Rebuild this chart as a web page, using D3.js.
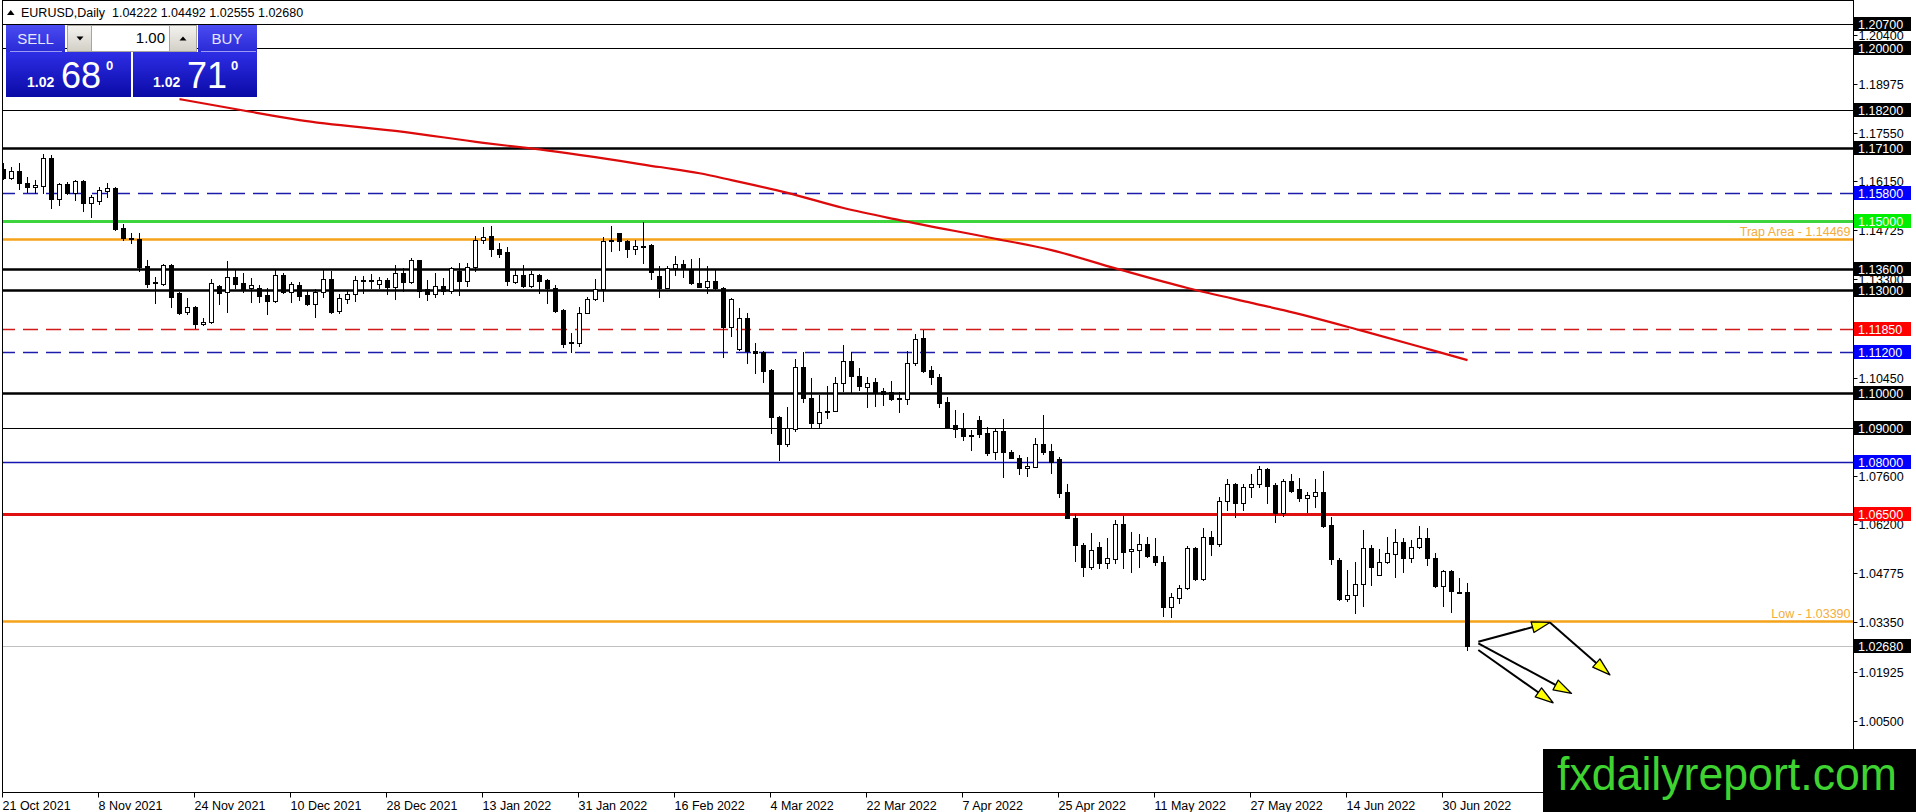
<!DOCTYPE html>
<html>
<head>
<meta charset="utf-8">
<script src="https://cdn.jsdelivr.net/npm/d3@7/dist/d3.min.js"></script>
<style>
  html, body { margin: 0; padding: 0; background: #fff; }
  svg { display: block; font-family: "Liberation Sans", Arial, sans-serif; }
</style>
</head>
<body>
<div id="chart"></div>
<script>
(function() {

// ---- data ----
const symbolTitle = "EURUSD,Daily  1.04222 1.04492 1.02555 1.02680";

const open = [
  1.1649, 1.1623, 1.1644, 1.1609, 1.1598, 1.1602, 1.1681, 1.1562, 1.1606, 1.1580,
  1.1616, 1.1553, 1.1558, 1.1587, 1.1594, 1.1478, 1.1446, 1.1446, 1.1369, 1.1322,
  1.1317, 1.1372, 1.1290, 1.1236, 1.1251, 1.1200, 1.1207, 1.1312, 1.1293, 1.1338,
  1.1319, 1.1304, 1.1304, 1.1285, 1.1268, 1.1343, 1.1293, 1.1313, 1.1285, 1.1259,
  1.1293, 1.1330, 1.1239, 1.1274, 1.1287, 1.1327, 1.1325, 1.1316, 1.1328, 1.1309,
  1.1348, 1.1323, 1.1385, 1.1301, 1.1287, 1.1312, 1.1297, 1.1354, 1.1326, 1.1367,
  1.1444, 1.1456, 1.1417, 1.1409, 1.1323, 1.1342, 1.1311, 1.1342, 1.1328, 1.1304,
  1.1241, 1.1148, 1.1147, 1.1234, 1.1272, 1.1301, 1.1440, 1.1464, 1.1441, 1.1417,
  1.1428, 1.1430, 1.1340, 1.1306, 1.1362, 1.1374, 1.1359, 1.1319, 1.1309, 1.1325,
  1.1304, 1.1191, 1.1127, 1.1217, 1.1123, 1.1119, 1.1067, 1.0932, 1.0854, 1.0896,
  1.1075, 1.0985, 1.0913, 1.0944, 1.0949, 1.1030, 1.1092, 1.1051, 1.1019, 1.1031,
  1.1007, 1.1002, 1.0987, 1.0982, 1.1087, 1.1159, 1.1067, 1.1046, 1.0975, 1.0908,
  1.0895, 1.0878, 1.0922, 1.0885, 1.0828, 1.0890, 1.0830, 1.0811, 1.0782, 1.0787,
  1.0853, 1.0832, 1.0808, 1.0712, 1.0637, 1.0560, 1.0497, 1.0553, 1.0506, 1.0519,
  1.0622, 1.0542, 1.0545, 1.0562, 1.0528, 1.0511, 1.0379, 1.0405, 1.0434, 1.0550,
  1.0460, 1.0584, 1.0563, 1.0688, 1.0736, 1.0681, 1.0729, 1.0736, 1.0779, 1.0734,
  1.0653, 1.0746, 1.0721, 1.0695, 1.0703, 1.0714, 1.0617, 1.0516, 1.0404, 1.0416,
  1.0446, 1.0550, 1.0474, 1.0509, 1.0533, 1.0567, 1.0521, 1.0553, 1.0581, 1.0521,
  1.0442, 1.0484, 1.0423, 1.04222
];

const high = [
  1.1667, 1.1655, 1.1667, 1.1626, 1.1618, 1.1694, 1.1691, 1.1611, 1.1614, 1.1618,
  1.1618, 1.1575, 1.1599, 1.1611, 1.1599, 1.1491, 1.1464, 1.1464, 1.1386, 1.1338,
  1.1375, 1.1375, 1.1294, 1.1275, 1.1254, 1.1217, 1.1330, 1.1314, 1.1384, 1.1357,
  1.1348, 1.1333, 1.1314, 1.1304, 1.1357, 1.1348, 1.1323, 1.1323, 1.1299, 1.1301,
  1.1357, 1.1353, 1.1288, 1.1299, 1.1340, 1.1340, 1.1346, 1.1336, 1.1333, 1.1372,
  1.1362, 1.1391, 1.1386, 1.1328, 1.1348, 1.1333, 1.1367, 1.1377, 1.1379, 1.1456,
  1.1483, 1.1485, 1.1435, 1.1423, 1.1357, 1.1371, 1.1353, 1.1346, 1.1330, 1.1314,
  1.1243, 1.1174, 1.1249, 1.1280, 1.1330, 1.1452, 1.1485, 1.1465, 1.1444, 1.1444,
  1.1497, 1.1433, 1.1369, 1.1369, 1.1398, 1.1386, 1.1390, 1.1391, 1.1369, 1.1359,
  1.1309, 1.1277, 1.1246, 1.1234, 1.1145, 1.1123, 1.1069, 1.0934, 1.0961, 1.1098,
  1.1120, 1.1043, 1.0995, 1.1021, 1.1046, 1.1140, 1.1120, 1.1072, 1.1048, 1.1043,
  1.1014, 1.1036, 1.1002, 1.1123, 1.1172, 1.1183, 1.1079, 1.1055, 1.0988, 1.0951,
  1.0942, 1.0893, 1.0934, 1.0903, 1.0895, 1.0924, 1.0835, 1.0821, 1.0814, 1.0869,
  1.0937, 1.0853, 1.0816, 1.0738, 1.0651, 1.0564, 1.0593, 1.0569, 1.0579, 1.0632,
  1.0644, 1.0598, 1.0591, 1.0584, 1.0579, 1.0529, 1.0419, 1.0444, 1.0557, 1.0555,
  1.0608, 1.0600, 1.0698, 1.0750, 1.0740, 1.0736, 1.0766, 1.0789, 1.0782, 1.0740,
  1.0750, 1.0766, 1.0753, 1.0714, 1.0750, 1.0774, 1.0642, 1.0521, 1.0487, 1.0509,
  1.0603, 1.0561, 1.0547, 1.0584, 1.0605, 1.0579, 1.0574, 1.0616, 1.0608, 1.0535,
  1.0487, 1.0487, 1.0463, 1.04492
];

const low = [
  1.1620, 1.1621, 1.1591, 1.1585, 1.1582, 1.1582, 1.1536, 1.1546, 1.1578, 1.1560,
  1.1529, 1.1512, 1.1549, 1.1570, 1.1473, 1.1444, 1.1435, 1.1355, 1.1309, 1.1263,
  1.1315, 1.1251, 1.1230, 1.1230, 1.1188, 1.1198, 1.1204, 1.1259, 1.1236, 1.1304,
  1.1294, 1.1265, 1.1265, 1.1230, 1.1265, 1.1290, 1.1265, 1.1270, 1.1256, 1.1222,
  1.1280, 1.1234, 1.1232, 1.1261, 1.1266, 1.1292, 1.1304, 1.1304, 1.1288, 1.1273,
  1.1297, 1.1321, 1.1280, 1.1270, 1.1280, 1.1288, 1.1290, 1.1285, 1.1311, 1.1355,
  1.1437, 1.1398, 1.1394, 1.1314, 1.1319, 1.1307, 1.1307, 1.1292, 1.1263, 1.1236,
  1.1133, 1.1120, 1.1137, 1.1232, 1.1270, 1.1268, 1.1411, 1.1415, 1.1396, 1.1404,
  1.1377, 1.1330, 1.1280, 1.1305, 1.1343, 1.1336, 1.1316, 1.1307, 1.1290, 1.1303,
  1.1106, 1.1166, 1.1125, 1.1089, 1.1058, 1.1033, 1.0885, 1.0806, 1.0847, 1.0891,
  1.0975, 1.0903, 1.0903, 1.0927, 1.0948, 1.1007, 1.1004, 1.1009, 1.0961, 1.0963,
  1.0966, 1.0980, 1.0946, 1.0969, 1.1082, 1.1060, 1.1027, 1.0961, 1.0900, 1.0874,
  1.0864, 1.0835, 1.0874, 1.0821, 1.0809, 1.0758, 1.0811, 1.0767, 1.0760, 1.0785,
  1.0825, 1.0769, 1.0698, 1.0637, 1.0514, 1.0471, 1.0490, 1.0492, 1.0492, 1.0506,
  1.0492, 1.0482, 1.0495, 1.0526, 1.0502, 1.0354, 1.0350, 1.0390, 1.0431, 1.0458,
  1.0458, 1.0531, 1.0557, 1.0661, 1.0642, 1.0661, 1.0698, 1.0727, 1.0681, 1.0627,
  1.0644, 1.0714, 1.0688, 1.0656, 1.0671, 1.0611, 1.0504, 1.0400, 1.0398, 1.0361,
  1.0384, 1.0444, 1.0473, 1.0506, 1.0468, 1.0482, 1.0511, 1.0550, 1.0502, 1.0437,
  1.0384, 1.0366, 1.0419, 1.02555
];

const close = [
  1.1623, 1.1645, 1.1609, 1.1597, 1.1605, 1.1681, 1.1562, 1.1606, 1.1580, 1.1616,
  1.1553, 1.1569, 1.1589, 1.1594, 1.1475, 1.1451, 1.1451, 1.1367, 1.1317, 1.1319,
  1.1372, 1.1280, 1.1234, 1.1249, 1.1200, 1.1207, 1.1319, 1.1292, 1.1336, 1.1317,
  1.1301, 1.1313, 1.1283, 1.1268, 1.1343, 1.1293, 1.1316, 1.1283, 1.1258, 1.1294,
  1.1330, 1.1236, 1.1275, 1.1287, 1.1328, 1.1325, 1.1327, 1.1328, 1.1309, 1.1348,
  1.1323, 1.1385, 1.1297, 1.1287, 1.1312, 1.1297, 1.1362, 1.1325, 1.1367, 1.1444,
  1.1454, 1.1417, 1.1404, 1.1326, 1.1342, 1.1311, 1.1345, 1.1326, 1.1304, 1.1239,
  1.1143, 1.1146, 1.1234, 1.1272, 1.1301, 1.1442, 1.1444, 1.1441, 1.1417, 1.1427,
  1.1427, 1.1351, 1.1304, 1.1362, 1.1374, 1.1359, 1.1321, 1.1309, 1.1324, 1.1304,
  1.1191, 1.1273, 1.1217, 1.1123, 1.1117, 1.1065, 1.0932, 1.0854, 1.0898, 1.1075,
  1.0985, 1.0913, 1.0944, 1.0949, 1.1030, 1.1092, 1.1051, 1.1021, 1.1029, 1.1002,
  1.0998, 1.0982, 1.0985, 1.1087, 1.1158, 1.1065, 1.1048, 1.0972, 1.0901, 1.0895,
  1.0877, 1.0876, 1.0883, 1.0826, 1.0890, 1.0828, 1.0813, 1.0782, 1.0789, 1.0853,
  1.0830, 1.0801, 1.0711, 1.0637, 1.0560, 1.0497, 1.0545, 1.0506, 1.0521, 1.0622,
  1.0540, 1.0547, 1.0562, 1.0529, 1.0511, 1.0379, 1.0410, 1.0434, 1.0550, 1.0460,
  1.0584, 1.0562, 1.0688, 1.0736, 1.0681, 1.0729, 1.0736, 1.0779, 1.0732, 1.0653,
  1.0746, 1.0717, 1.0695, 1.0705, 1.0714, 1.0615, 1.0518, 1.0404, 1.0416, 1.0446,
  1.0550, 1.0495, 1.0509, 1.0535, 1.0567, 1.0521, 1.0555, 1.0581, 1.0521, 1.0441,
  1.0484, 1.0427, 1.0421, 1.02680
];

// moving average (red), read at a few bars
const maBars   = [22, 30, 37, 50, 60, 67, 82, 87, 91, 98, 105, 112, 124, 131, 139, 148, 156, 160, 170, 179, 183];
const maValues = [1.1853, 1.1820, 1.1792, 1.1758, 1.1726, 1.1707, 1.1656, 1.1638, 1.1618, 1.1581, 1.1537,
                  1.1502, 1.1448, 1.1415, 1.1362, 1.1305, 1.1262, 1.1241, 1.1180, 1.1122, 1.1096];

// date axis: one label every 12 bars
const dateLabels = ["21 Oct 2021", "8 Nov 2021", "24 Nov 2021", "10 Dec 2021", "28 Dec 2021",
                    "13 Jan 2022", "31 Jan 2022", "16 Feb 2022", "4 Mar 2022", "22 Mar 2022",
                    "7 Apr 2022", "25 Apr 2022", "11 May 2022", "27 May 2022", "14 Jun 2022", "30 Jun 2022"];

// price scale tick labels
const priceTicks = [1.20400, 1.18975, 1.17550, 1.16150, 1.14725, 1.13300, 1.11875, 1.10450,
                    1.09025, 1.07600, 1.06200, 1.04775, 1.03350, 1.01925, 1.00500];

// horizontal levels drawn on the chart
const levelPrices = [1.20700, 1.20000, 1.18200, 1.17100, 1.15800, 1.15000, 1.14469, 1.13600,
                     1.13000, 1.11850, 1.11200, 1.10000, 1.09000, 1.08000, 1.06500, 1.03390, 1.02680];
const levelNotes  = ["", "", "", "", "", "", "Trap Area - 1.14469", "", "", "", "", "", "", "", "", "Low - 1.03390", ""];

// hand drawn arrows (bar index, price)
const arrowFromBar   = [184.35, 193.3, 184.35, 184.35];
const arrowFromPrice = [1.0279, 1.0335, 1.0274, 1.0255];
const arrowToBar     = [193.3, 200.8, 196.0, 193.7];
const arrowToPrice   = [1.0335, 1.0183, 1.0129, 1.0102];

// ---- styles ----
const BLUE_DASH = "#1c1caa";
const levelStyle = [
  {stroke: "#000", width: 1.2, box: "#000"},
  {stroke: "#000", width: 1.2, box: "#000"},
  {stroke: "#000", width: 1.2, box: "#000"},
  {stroke: "#000", width: 2.4, box: "#000"},
  {stroke: BLUE_DASH, width: 1.3, dash: "15,8", box: "#0000ff"},
  {stroke: "#3ed43e", width: 3, box: "#00ee00"},
  {stroke: "#f5a31a", width: 2.4, text: "#f2ad3c"},
  {stroke: "#000", width: 2.4, box: "#000"},
  {stroke: "#000", width: 2.4, box: "#000"},
  {stroke: "#d21a1a", width: 1.3, dash: "15,8", box: "#ff0000"},
  {stroke: BLUE_DASH, width: 1.3, dash: "15,8", box: "#0000ff"},
  {stroke: "#000", width: 2.4, box: "#000"},
  {stroke: "#000", width: 1.2, box: "#000"},
  {stroke: "#1515b0", width: 1.3, box: "#0000ff"},
  {stroke: "#e01010", width: 2.8, box: "#ff0000"},
  {stroke: "#f5a31a", width: 2.4, text: "#f2ad3c"},
  {stroke: "#c0c0c0", width: 1.2, box: "#000"}
];

const w = 1916;
const h = 812;
const chartLeft = 2.5;
const chartRight = 1853.5;
const chartBottom = 792.5;
const barStep = 8;

const x = d3.scaleLinear()
  .domain([0, 231])
  .range([3.5, 3.5 + barStep * 231]);

const y = d3.scaleLinear()
  .domain([1.207, 1.005])
  .range([24.3, 720.7]);

const py = v => Math.round(y(v)) + 0.5;

const svg = d3.select("#chart")
  .append("svg")
  .attr("width", w)
  .attr("height", h)
  .attr("viewBox", `0 0 ${w} ${h}`);

svg.append("rect").attr("width", w).attr("height", h).attr("fill", "#fff");

const defs = svg.append("defs");
defs.append("clipPath").attr("id", "plot")
  .append("rect")
  .attr("x", 3).attr("y", 0)
  .attr("width", chartRight - 3.5).attr("height", chartBottom);

function grad(id, c1, c2) {
  const g = defs.append("linearGradient").attr("id", id)
    .attr("x1", 0).attr("y1", 0).attr("x2", 0).attr("y2", 1);
  g.append("stop").attr("offset", "0%").attr("stop-color", c1);
  g.append("stop").attr("offset", "100%").attr("stop-color", c2);
}
grad("hdr", "#4b4bf2", "#2a2ad6");
grad("prc", "#2e2ee6", "#0a0aa6");
grad("btn", "#f4f3ef", "#d2cfc6");

const plot = svg.append("g").attr("clip-path", "url(#plot)");

// level lines
plot.selectAll("line.level")
  .data(levelPrices)
  .enter()
  .append("line")
  .attr("class", "level")
  .attr("x1", 0)
  .attr("x2", chartRight)
  .attr("y1", d => py(d))
  .attr("y2", d => py(d))
  .attr("stroke", (d, i) => levelStyle[i].stroke)
  .attr("stroke-width", (d, i) => levelStyle[i].width)
  .attr("stroke-dasharray", (d, i) => levelStyle[i].dash || null);

// moving average
const maLine = d3.line()
  .x(d => x(d[0]))
  .y(d => y(d[1]))
  .curve(d3.curveMonotoneX);

plot.append("path")
  .datum(maBars.map((b, i) => [b, maValues[i]]))
  .attr("d", maLine)
  .attr("fill", "none")
  .attr("stroke", "#dc0a0a")
  .attr("stroke-width", 2.2);

// candles
const candles = open.map((o, i) => ({i: i, o: o, h: high[i], l: low[i], c: close[i]}));

const cg = plot.selectAll("g.candle")
  .data(candles)
  .enter()
  .append("g")
  .attr("class", "candle");

cg.append("line")
  .attr("x1", d => x(d.i))
  .attr("x2", d => x(d.i))
  .attr("y1", d => Math.round(y(d.h)))
  .attr("y2", d => Math.round(y(d.l)) + 1)
  .attr("stroke", "#000")
  .attr("stroke-width", 1);

cg.append("rect")
  .attr("x", d => d.c >= d.o ? x(d.i) - 2 : x(d.i) - 2.5)
  .attr("y", d => {
    const t = Math.round(y(Math.max(d.o, d.c)));
    return d.c >= d.o ? t + 0.5 : t;
  })
  .attr("width", d => d.c >= d.o ? 4 : 5)
  .attr("height", d => {
    const hh = Math.round(y(Math.min(d.o, d.c))) - Math.round(y(Math.max(d.o, d.c)));
    return d.c >= d.o ? Math.max(hh, 1) : Math.max(hh, 1) + 1;
  })
  .attr("fill", d => d.c >= d.o ? "#fff" : "#000")
  .attr("stroke", d => d.c >= d.o ? "#000" : "none")
  .attr("stroke-width", 1);

// level notes (text above the line, flush right)
svg.selectAll("text.note")
  .data(levelPrices.map((p, i) => ({p: p, t: levelNotes[i], s: levelStyle[i]})).filter(d => d.t))
  .enter()
  .append("text")
  .attr("class", "note")
  .attr("x", chartRight - 3)
  .attr("y", d => py(d.p) - 4)
  .attr("text-anchor", "end")
  .attr("font-size", "12.5px")
  .attr("fill", d => d.s.text)
  .text(d => d.t);

// arrows
const arrows = arrowFromBar.map((b, i) => ({
  x1: x(b), y1: y(arrowFromPrice[i]), x2: x(arrowToBar[i]), y2: y(arrowToPrice[i])
}));

const ag = svg.selectAll("g.arrow")
  .data(arrows)
  .enter()
  .append("g")
  .attr("class", "arrow");

ag.append("line")
  .attr("x1", d => d.x1)
  .attr("y1", d => d.y1)
  .attr("x2", d => {
    const len = Math.hypot(d.x2 - d.x1, d.y2 - d.y1);
    return d.x2 - (d.x2 - d.x1) / len * 14;
  })
  .attr("y2", d => {
    const len = Math.hypot(d.x2 - d.x1, d.y2 - d.y1);
    return d.y2 - (d.y2 - d.y1) / len * 14;
  })
  .attr("stroke", "#000")
  .attr("stroke-width", 2);

ag.append("path")
  .attr("d", d => {
    const len = Math.hypot(d.x2 - d.x1, d.y2 - d.y1);
    const ux = (d.x2 - d.x1) / len, uy = (d.y2 - d.y1) / len;
    const bx = d.x2 - ux * 18, by = d.y2 - uy * 18;
    const hw = 5.5;
    return `M${d.x2},${d.y2}L${bx - uy * hw},${by + ux * hw}L${bx + uy * hw},${by - ux * hw}Z`;
  })
  .attr("fill", "#ffff00")
  .attr("stroke", "#000")
  .attr("stroke-width", 1.3)
  .attr("stroke-linejoin", "round");

// chart frame
svg.append("line")
  .attr("x1", chartLeft).attr("x2", chartLeft)
  .attr("y1", 0).attr("y2", chartBottom)
  .attr("stroke", "#000");
svg.append("line")
  .attr("x1", chartLeft).attr("x2", chartRight)
  .attr("y1", 0.5).attr("y2", 0.5)
  .attr("stroke", "#000");
svg.append("line")
  .attr("x1", chartRight).attr("x2", chartRight)
  .attr("y1", 0).attr("y2", 749)
  .attr("stroke", "#000");

// price axis
const yAxis = d3.axisRight(y)
  .tickValues(priceTicks)
  .tickFormat(d3.format(".5f"))
  .tickSize(4)
  .tickSizeOuter(0);

const ya = svg.append("g")
  .attr("transform", `translate(${chartRight},0)`)
  .call(yAxis);
ya.select(".domain").remove();
ya.selectAll(".tick").attr("transform", d => `translate(0,${py(d)})`);
ya.selectAll(".tick line").attr("stroke", "#000");
ya.selectAll(".tick text")
  .attr("x", 5)
  .attr("dy", "0.36em")
  .attr("fill", "#000")
  .attr("font-family", "Liberation Sans, Arial, sans-serif")
  .attr("font-size", "12.5px");

// price boxes for the levels
const boxes = svg.selectAll("g.pbox")
  .data(levelPrices.map((p, i) => ({p: p, s: levelStyle[i]})).filter(d => d.s.box))
  .enter()
  .append("g")
  .attr("class", "pbox")
  .attr("transform", d => `translate(${chartRight + 0.5},${Math.round(y(d.p))})`);

boxes.append("rect")
  .attr("x", 0).attr("y", -7)
  .attr("width", 57).attr("height", 14)
  .attr("fill", d => d.s.box);

boxes.append("text")
  .attr("x", 4)
  .attr("y", 0)
  .attr("dy", "0.37em")
  .attr("font-size", "12.5px")
  .attr("fill", "#fff")
  .text(d => d3.format(".5f")(d.p));

// date axis
const xAxis = d3.axisBottom(x)
  .tickValues(dateLabels.map((d, i) => i * 12))
  .tickFormat((d, i) => dateLabels[i])
  .tickSize(5)
  .tickSizeOuter(0);

const xa = svg.append("g")
  .attr("transform", `translate(0,${chartBottom})`)
  .call(xAxis);
xa.select(".domain")
  .attr("d", `M${chartLeft},0H${chartRight}`)
  .attr("stroke", "#000");
xa.selectAll(".tick").attr("transform", d => `translate(${Math.floor(x(d)) - 0.5},0)`);
xa.selectAll(".tick line").attr("stroke", "#000");
xa.selectAll(".tick text")
  .attr("text-anchor", "start")
  .attr("x", 0)
  .attr("y", 9)
  .attr("dy", "0.71em")
  .attr("fill", "#000")
  .attr("font-family", "Liberation Sans, Arial, sans-serif")
  .attr("font-size", "12.5px");

// header line
svg.append("path")
  .attr("d", "M7,15L14.5,15L10.75,10Z")
  .attr("fill", "#000");
svg.append("text")
  .attr("x", 21)
  .attr("y", 17)
  .attr("font-size", "12.5px")
  .attr("fill", "#000")
  .attr("xml:space", "preserve")
  .text(symbolTitle);

// one-click trading panel
const panel = svg.append("g");
panel.append("rect").attr("x", 6).attr("y", 25).attr("width", 59).attr("height", 27).attr("fill", "url(#hdr)");
panel.append("rect").attr("x", 198).attr("y", 25).attr("width", 59).attr("height", 27).attr("fill", "url(#hdr)");
panel.append("line").attr("x1", 10).attr("x2", 62).attr("y1", 51.5).attr("y2", 51.5).attr("stroke", "#9a9af5");
panel.append("line").attr("x1", 201).attr("x2", 256).attr("y1", 51.5).attr("y2", 51.5).attr("stroke", "#9a9af5");
panel.append("rect").attr("x", 67.5).attr("y", 25.5).attr("width", 24).attr("height", 26)
  .attr("fill", "url(#btn)").attr("stroke", "#a8a59c");
panel.append("rect").attr("x", 91.5).attr("y", 25.5).attr("width", 78).attr("height", 26)
  .attr("fill", "#fff").attr("stroke", "#a8a59c");
panel.append("rect").attr("x", 169.5).attr("y", 25.5).attr("width", 27).attr("height", 26)
  .attr("fill", "url(#btn)").attr("stroke", "#a8a59c");
panel.append("path").attr("d", "M76.5,36.5L83.5,36.5L80,40.5Z").attr("fill", "#000");
panel.append("path").attr("d", "M179.5,40.5L186.5,40.5L183,36.5Z").attr("fill", "#000");
panel.append("text").attr("x", 165).attr("y", 43).attr("text-anchor", "end")
  .attr("font-size", "15px").attr("fill", "#000").text("1.00");
panel.append("text").attr("x", 35.5).attr("y", 44).attr("text-anchor", "middle")
  .attr("font-size", "15px").attr("fill", "#e6e6ff").text("SELL");
panel.append("text").attr("x", 227).attr("y", 44).attr("text-anchor", "middle")
  .attr("font-size", "15px").attr("fill", "#e6e6ff").text("BUY");

panel.append("rect").attr("x", 6).attr("y", 52).attr("width", 125).attr("height", 45).attr("fill", "url(#prc)");
panel.append("rect").attr("x", 133).attr("y", 52).attr("width", 124).attr("height", 45).attr("fill", "url(#prc)");

const quotes = [
  {x: 27, big: "68", bx: 61, sx: 106},
  {x: 153, big: "71", bx: 187, sx: 231}
];
quotes.forEach(q => {
  panel.append("text").attr("x", q.x).attr("y", 87).attr("font-size", "14px")
    .attr("font-weight", "bold").attr("fill", "#fff").text("1.02");
  panel.append("text").attr("x", q.bx).attr("y", 87.5).attr("font-size", "36px")
    .attr("fill", "#fff").text(q.big);
  panel.append("text").attr("x", q.sx).attr("y", 70).attr("font-size", "13px")
    .attr("font-weight", "bold").attr("fill", "#fff").text("0");
});

// watermark
svg.append("rect")
  .attr("x", 1543).attr("y", 749)
  .attr("width", w - 1543).attr("height", h - 749)
  .attr("fill", "#000");
svg.append("text")
  .attr("x", 1557)
  .attr("y", 790)
  .attr("font-size", "47px")
  .attr("textLength", 340)
  .attr("lengthAdjust", "spacingAndGlyphs")
  .attr("fill", "#3fd331")
  .text("fxdailyreport.com");

})();
</script>
</body>
</html>
